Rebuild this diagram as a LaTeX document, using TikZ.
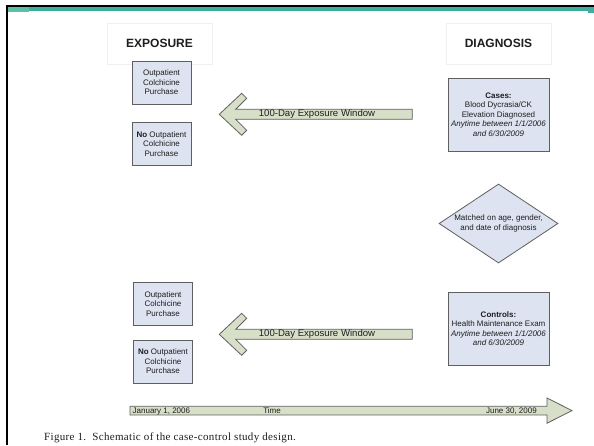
\documentclass[tikz,border=0pt]{standalone}
\usepackage{fontspec}
\setmainfont{Liberation Sans}
\newfontfamily\capfont[LetterSpace=3]{Liberation Serif}
\usetikzlibrary{shapes.geometric}
\definecolor{boxfill}{RGB}{221,227,240}
\definecolor{boxline}{RGB}{95,95,95}
\definecolor{arrfill}{RGB}{216,223,200}
\definecolor{tealmain}{RGB}{62,174,160}
\definecolor{teallight}{RGB}{92,192,166}
\definecolor{txt}{RGB}{30,30,30}
\tikzset{
  small/.style={font=\fontsize{8}{9.4}\selectfont, text=txt},
  hdrbox/.style={draw=black!6, line width=0.6pt, minimum width=105pt, minimum height=41pt, inner sep=0pt,
    font=\fontsize{12}{14}\selectfont\bfseries, text=txt},
  expbox/.style={small, draw=boxline, fill=boxfill, line width=0.8pt, minimum width=59pt, minimum height=43pt,
    align=center, inner sep=1pt},
  diagbox/.style={small, draw=boxline, fill=boxfill, line width=0.8pt, minimum width=101pt, minimum height=73pt,
    align=center, inner sep=1pt},
  blockarrow/.style={draw=boxline, fill=arrfill, line width=0.8pt, line join=miter},
  arrlabel/.style={font=\fontsize{9.6}{11}\selectfont, text=txt, inner sep=0pt},
  timelabel/.style={font=\fontsize{8}{9.5}\selectfont, text=txt, inner sep=0pt},
}
\begin{document}
\begin{tikzpicture}[x=1pt,y=-1pt]
\useasboundingbox (0,0) rectangle (594,445);
\fill[white] (0,0) rectangle (594,445);
% page frame
\fill[black] (5.5,5) rectangle (594,7.2);
\fill[black] (5.5,5) rectangle (8,445);
\fill[tealmain] (8,7.2) rectangle (594,11.2);
\fill[teallight] (8,7.2) rectangle (29,12.3);
\fill[tealmain] (588,7.2) rectangle (594,13);

% headers
\node[hdrbox] (exph) at (159.5,43.5) {EXPOSURE};
\node[hdrbox] (diagh) at (498.5,43.5) {DIAGNOSIS};

% exposure boxes
\node[expbox] (exp1) at (161.5,82.5) {Outpatient\\Colchicine\\Purchase};
\node[expbox] (exp2) at (161.5,144) {\textbf{No} Outpatient\\Colchicine\\Purchase};
\node[expbox] (exp3) at (163,304) {Outpatient\\Colchicine\\Purchase};
\node[expbox] (exp4) at (163,361.5) {\textbf{No} Outpatient\\Colchicine\\Purchase};

% diagnosis boxes
\node[diagbox] (cases) at (498.5,114.5) {\textbf{Cases:}\\Blood Dycrasia/CK\\Elevation Diagnosed\\\textit{Anytime between 1/1/2006}\\\textit{and 6/30/2009}};
\node[diagbox] (controls) at (498.5,328.5) {\textbf{Controls:}\\Health Maintenance Exam\\\textit{Anytime between 1/1/2006}\\\textit{and 6/30/2009}};

% matching diamond
\node[diamond, draw=boxline, fill=boxfill, line width=0.8pt, minimum width=119pt, minimum height=79pt, inner sep=0pt] (match) at (498.5,223.5) {};
\node[small, align=center, inner sep=0pt, font=\fontsize{8}{10}\selectfont] (matchtxt) at (match.center) {Matched on age, gender,\\and date of diagnosis};

% exposure window arrows
\foreach \yy/\nm in {114.3/win1, 334.3/win2}{
  \draw[blockarrow] (219.3,\yy) -- (241.7,\yy-21) -- (246.7,\yy-16) -- (235.7,\yy-5) -- (412.3,\yy-5)
     -- (412.3,\yy+5) -- (235.7,\yy+5) -- (246.7,\yy+16) -- (241.7,\yy+21) -- cycle;
  \node[arrlabel] (\nm) at (317,\yy) {100-Day Exposure Window};
}

% time arrow
\draw[blockarrow] (130,406.3) -- (547,406.3) -- (547,398) -- (572,410.6) -- (547,423.2) -- (547,414.9) -- (130,414.9) -- cycle;
\node[timelabel, anchor=base west] (t0) at (132.5,413.4) {January 1, 2006};
\node[timelabel, anchor=base] (tt) at (272,413.4) {Time};
\node[timelabel, anchor=base east] (t1) at (537,413.4) {June 30, 2009};

% caption
\node[anchor=west, inner sep=0pt, font=\capfont\fontsize{11}{13}\selectfont, text=txt] (cap) at (44,437.5)
  {Figure 1.\ \ Schematic of the case-control study design.};
\end{tikzpicture}
\end{document}
